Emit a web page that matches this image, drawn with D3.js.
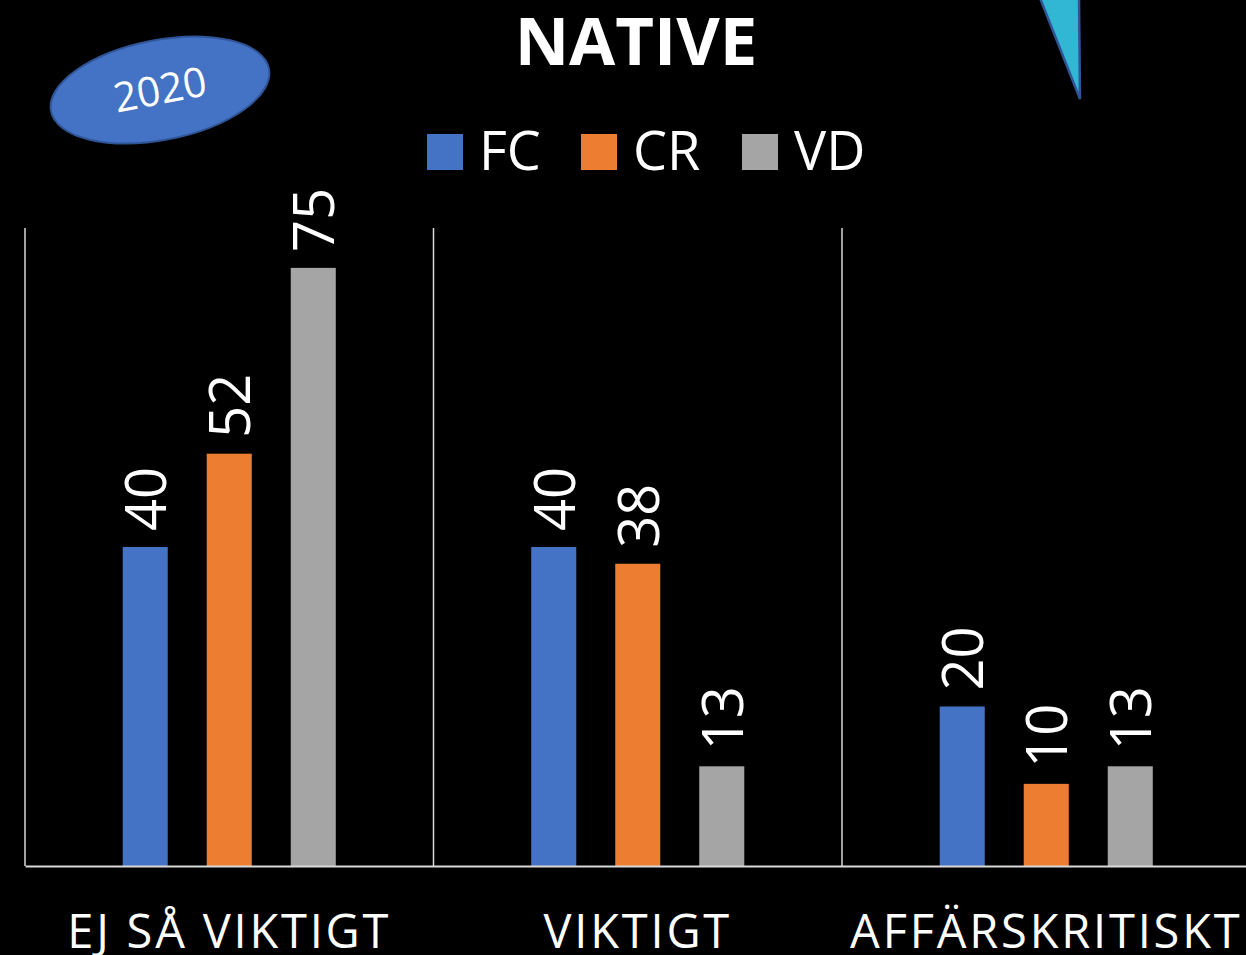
<!DOCTYPE html>
<html><head><meta charset="utf-8">
<script src="https://cdn.jsdelivr.net/npm/d3@7"></script>
<style>html,body{margin:0;padding:0;background:#000;overflow:hidden}</style>
</head><body>
<svg id="chart" width="1246" height="955"></svg>
<script>
const categories = ["EJ SÅ VIKTIGT", "VIKTIGT", "AFFÄRSKRITISKT"];
const seriesNames = ["FC", "CR", "VD"];
const seriesColors = ["#4472C4", "#ED7D31", "#A5A5A5"];
const fcValues = [40, 40, 20];
const crValues = [51.7, 37.9, 10.3];
const vdValues = [75, 12.5, 12.5];
const title = "NATIVE";
const yearLabel = "2020";

const seriesValues = [fcValues, crValues, vdValues];
const svg = d3.select("#chart");
const W = 1246, H = 955;
svg.append("rect").attr("width", W).attr("height", H).attr("fill", "#000");

const plotLeft = 25, catW = 408.5, plotTop = 228, plotBottom = 866;
const x0 = d3.scaleBand().domain(categories).range([plotLeft, plotLeft + catW * categories.length]).padding(0);
const x1 = d3.scaleBand().domain(seriesNames).range([0, catW]).paddingInner(0.464).paddingOuter(1.163);
const y = d3.scaleLinear().domain([0, 80]).range([plotBottom, plotTop]);

// separators
const g = svg.append("g");
const seps = d3.range(categories.length + 1).map(i => plotLeft + i * catW);
g.selectAll("line.sep").data(seps).enter().append("line")
  .attr("x1", d => d).attr("x2", d => d).attr("y1", plotTop).attr("y2", plotBottom)
  .attr("stroke", "#d9d9d9").attr("stroke-width", 1.5);

// bars
const data = [];
categories.forEach((c, ci) => seriesNames.forEach((s, si) => data.push({c, s, si, v: seriesValues[si][ci]})));
g.selectAll("rect.bar").data(data).enter().append("rect")
  .attr("x", d => x0(d.c) + x1(d.s))
  .attr("width", x1.bandwidth())
  .attr("y", d => y(d.v))
  .attr("height", d => y(0) - y(d.v))
  .attr("fill", d => seriesColors[d.si]);

// axis line
const xAxis = d3.axisBottom(x0).tickSize(0).tickPadding(0);
const ax = svg.append("g").attr("transform", `translate(0,${plotBottom})`).call(xAxis);
ax.select(".domain").attr("stroke", "#d9d9d9").attr("stroke-width", 2);
ax.selectAll(".tick text")
  .attr("fill", "#fff")
  .attr("font-family", "'Open Sans', sans-serif")
  .attr("font-size", 47)
  .attr("letter-spacing", 2.8)
  .attr("dy", "0")
  .attr("y", 82);

// value labels
g.selectAll("text.val").data(data).enter().append("text")
  .attr("transform", d => `translate(${x0(d.c) + x1(d.s) + x1.bandwidth()/2 + 21},${y(d.v) - 16}) rotate(-90)`)
  .attr("text-anchor", "start")
  .attr("fill", "#fff")
  .attr("font-family", "'Open Sans', sans-serif")
  .attr("font-size", 56)
  .text(d => d3.format(".0f")(d.v));

// title
svg.append("text").attr("x", 636).attr("y", 65).attr("text-anchor", "middle")
  .attr("fill", "#fff").attr("font-family", "'Open Sans', sans-serif").attr("font-weight", "bold")
  .attr("font-size", 67).text(title);

// legend
const legX = [427, 581, 742];
const leg = svg.append("g");
seriesNames.forEach((s, i) => {
  leg.append("rect").attr("x", legX[i]).attr("y", 134).attr("width", 36).attr("height", 36).attr("fill", seriesColors[i]);
  leg.append("text").attr("x", legX[i] + 52).attr("y", 170).attr("fill", "#fff")
    .attr("font-family", "'Open Sans', sans-serif").attr("font-size", 54).text(s);
});

// year ellipse
const eg = svg.append("g").attr("transform", "translate(160,90) rotate(-11)");
eg.append("ellipse").attr("rx", 111).attr("ry", 50).attr("fill", "#4472C4").attr("stroke", "#2F5597").attr("stroke-width", 2);
eg.append("text").attr("x", 0).attr("y", 14).attr("text-anchor", "middle").attr("fill", "#fff")
  .attr("font-family", "'Open Sans', sans-serif").attr("font-size", 41).text(yearLabel);

// decorative triangle
svg.append("polygon").attr("points", "1040,-2 1079,-2 1080,99")
  .attr("fill", "#31B7D3").attr("stroke", "#2F5597").attr("stroke-width", 2.5);
</script>
</body></html>
